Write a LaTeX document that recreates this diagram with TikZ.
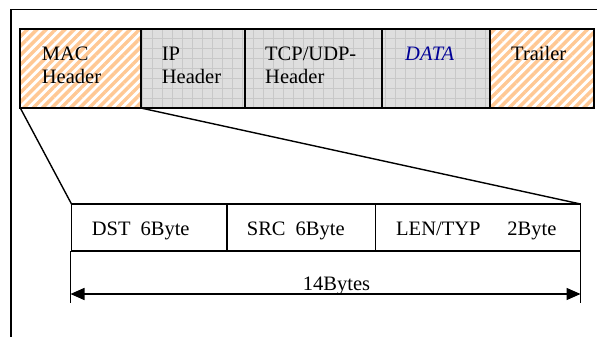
\documentclass[tikz,border=0pt]{standalone}
\usepackage{fontspec}
\setmainfont{Liberation Serif}
\usetikzlibrary{patterns.meta,arrows.meta}

\definecolor{stripe}{RGB}{255,200,148}
\definecolor{gridbg}{RGB}{222,222,222}
\definecolor{gridln}{RGB}{200,200,200}
\definecolor{datablue}{RGB}{0,0,150}

\tikzset{
  txt/.style={inner sep=0pt, anchor=base west,
    font=\fontsize{20.5pt}{24pt}\selectfont},
  cellbox/.style={draw=black, line width=2pt, outer sep=0pt, inner sep=0pt,
    anchor=north west, minimum height=79pt},
  hatchcell/.style={cellbox,
    preaction={fill=white},
    pattern={Lines[angle=45,distance=6.6pt,line width=3.5pt]},
    pattern color=stripe},
  gridcell/.style={cellbox, fill=gridbg,
    path picture={\draw[gridln, line width=0.7pt]
      (path picture bounding box.north west) grid[step=10pt]
      (path picture bounding box.south east);}},
  fieldbox/.style={draw=black, line width=1.3pt, outer sep=0pt, inner sep=0pt,
    anchor=north west, minimum height=47pt},
  thinline/.style={line width=1.4pt},
  dimarrow/.style={line width=1.5pt,
    {Triangle[length=14pt,width=12pt]}-{Triangle[length=14pt,width=12pt]}}
}

\begin{document}
\begin{tikzpicture}[x=1pt,y=-1pt]
  \useasboundingbox (0,0) rectangle (597,337);

  % outer frame, running off the page at right and bottom
  \coordinate (frTL) at (11,9.3);
  \coordinate (frTR) at (600,9.3);
  \coordinate (frBL) at (11,340);
  \draw[line width=1.5pt] (frBL) -- (frTL) -- (frTR);

  % frame cells
  \node[hatchcell, minimum width=120.5pt] (mac)  at (20.3,29) {};
  \node[gridcell,  minimum width=104pt]   (ip)   at (140.8,29) {};
  \node[gridcell,  minimum width=137pt]   (tcp)  at (244.8,29) {};
  \node[gridcell,  minimum width=108pt]   (data) at (381.8,29) {};
  \node[hatchcell, minimum width=104pt]   (trl)  at (489.8,29) {};

  % cell labels
  \node[txt] (mac1) at (41.7,60) {MAC};
  \node[txt] (mac2) at (41.7,84) {Header};
  \node[txt] (ip1)  at (161.7,60) {IP};
  \node[txt] (ip2)  at (161.7,84) {Header};
  \node[txt] (tcp1) at (265,60) {TCP/UDP-};
  \node[txt] (tcp2) at (265,84) {Header};
  \node[txt, text=datablue, font=\fontsize{20.5pt}{24pt}\selectfont\itshape]
    (data1) at (405,60) {DATA};
  \node[txt] (trl1) at (511,60) {Trailer};

  % MAC header fields
  \node[fieldbox, minimum width=155.5pt] (dst) at (71.5,204) {};
  \node[fieldbox, minimum width=148.5pt] (src) at (227,204) {};
  \node[fieldbox, minimum width=205pt]   (len) at (375.5,204) {};

  \node[txt] (dstt) at (91.7,235) {DST\hspace{10pt}6Byte};
  \node[txt] (srct) at (246.7,235) {SRC\hspace{10pt}6Byte};
  \node[txt] (lent) at (396,235) {LEN/TYP\hspace{27pt}2Byte};

  % zoom lines from the MAC cell to the field row
  \draw[thinline] (mac.south west) -- (dst.north west);
  \draw[thinline] (mac.south east) -- (len.north east);

  % size dimension
  \coordinate (tickL) at (70.5,303);
  \coordinate (tickR) at (580.5,303);
  \coordinate (arrL) at (70.5,294);
  \coordinate (arrR) at (580.5,294);
  \draw[thinline] (dst.south west -| tickL) -- (tickL);
  \draw[thinline] (len.south east) -- (tickR);
  \draw[dimarrow] (arrL) -- (arrR);
  \node[txt] (size) at (302.7,290) {14Bytes};
\end{tikzpicture}
\end{document}
